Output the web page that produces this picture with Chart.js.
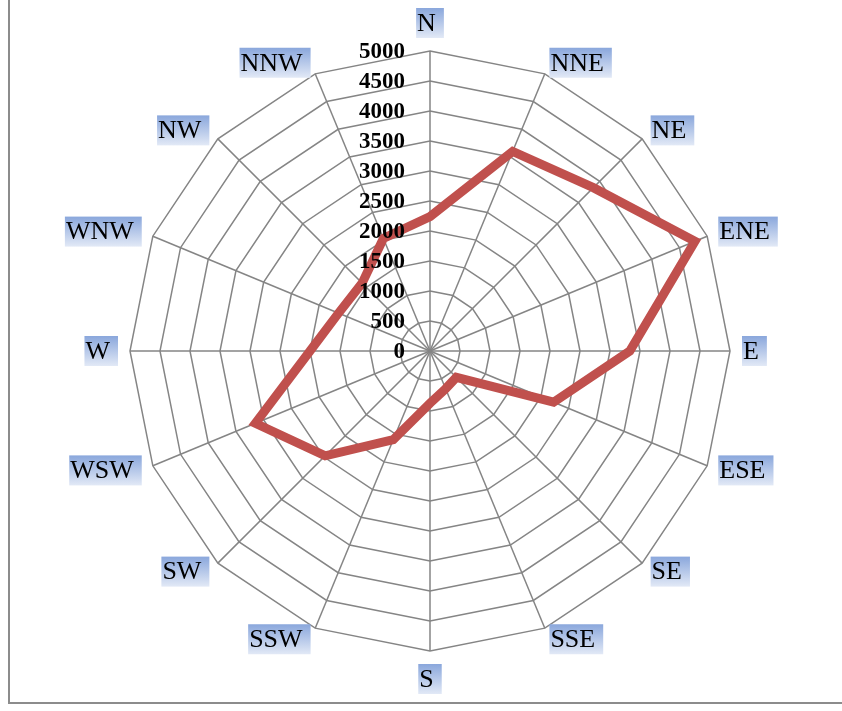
<!DOCTYPE html>
<html>
<head>
<meta charset="utf-8">
<title>Wind direction radar</title>
<script src="https://cdn.jsdelivr.net/npm/chart.js@4.4.1/dist/chart.umd.min.js"></script>
<style>
  html, body { margin: 0; padding: 0; background: #ffffff; }
  #wrap { position: relative; width: 842px; height: 711px; overflow: hidden; }
  #frame {
    position: absolute; left: 8px; top: -4px; width: 900px; height: 708px;
    border-left: 2px solid #8c8c8c; border-bottom: 2px solid #8c8c8c;
    box-sizing: border-box; pointer-events: none;
  }
  canvas { position: absolute; left: 0; top: 0; }
</style>
</head>
<body>
<div id="wrap">
  <canvas id="chart" width="842" height="711"></canvas>
  <div id="frame"></div>
</div>
<script>
// Compass directions, clockwise from north
const directions = ['N', 'NNE', 'NE', 'ENE', 'E', 'ESE', 'SE', 'SSE',
                    'S', 'SSW', 'SW', 'WSW', 'W', 'WNW', 'NW', 'NNW'];

// Value per direction
const frequency = [2240, 3600, 3850, 4780, 3330, 2230, 620, 680,
                   870, 1600, 2470, 3150, 2000, 1650, 1600, 2030];

// Radial axis ticks
const ringTicks = [0, 500, 1000, 1500, 2000, 2500, 3000, 3500, 4000, 4500, 5000];

const GRID = '#858585';
const LABEL_FONT = '26px "Liberation Serif", "Times New Roman", serif';
const TICK_FONT = 'bold 23px "Liberation Serif", "Times New Roman", serif';

// Tick values on the left of the vertical spoke, drawn over the series line
const tickLabelPlugin = {
  id: 'tickLabels',
  afterDatasetsDraw(chart) {
    const r = chart.scales.r;
    const ctx = chart.ctx;
    ctx.save();
    ctx.font = TICK_FONT;
    ctx.fillStyle = '#000000';
    ctx.textAlign = 'right';
    ctx.textBaseline = 'middle';
    r.ticks.forEach(t => {
      const d = r.getDistanceFromCenterForValue(t.value);
      ctx.fillText(String(t.value), r.xCenter - 25, r.yCenter - d + 1);
    });
    ctx.restore();
  }
};

// Direction names with a blue gradient backdrop around the outer ring
const directionLabelPlugin = {
  id: 'directionLabels',
  afterDraw(chart) {
    const r = chart.scales.r;
    const ctx = chart.ctx;
    const n = chart.data.labels.length;
    const boxH = 30;
    ctx.save();
    ctx.font = LABEL_FONT;
    ctx.textBaseline = 'middle';
    ctx.textAlign = 'left';
    chart.data.labels.forEach((label, i) => {
      const p = r.getPointPosition(i, r.drawingArea + 12);
      const deg = (i * 360) / n;
      const w = ctx.measureText(label).width + 9;
      let left, top;
      if (deg === 0) {
        left = p.x - w / 2; top = p.y - 1 - boxH;
      } else if (deg === 180) {
        left = p.x - w / 2; top = p.y + 1;
      } else if (deg < 180) {
        left = p.x; top = p.y - boxH / 2;
      } else {
        left = p.x - w; top = p.y - boxH / 2;
      }
      const g = ctx.createLinearGradient(0, top, 0, top + boxH);
      g.addColorStop(0, '#8aa7dc');
      g.addColorStop(1, '#e2e9f6');
      ctx.fillStyle = g;
      ctx.fillRect(left, top, w, boxH);
      ctx.fillStyle = '#000000';
      ctx.fillText(label, left + 1, top + boxH / 2 + 1);
    });
    ctx.restore();
  }
};

new Chart(document.getElementById('chart').getContext('2d'), {
  type: 'radar',
  data: {
    labels: directions,
    datasets: [{
      data: frequency,
      borderColor: '#c0504d',
      backgroundColor: 'rgba(0,0,0,0)',
      borderWidth: 9,
      borderJoinStyle: 'miter',
      fill: false,
      tension: 0,
      pointRadius: 0,
      pointHoverRadius: 0,
      pointHitRadius: 0
    }]
  },
  options: {
    responsive: false,
    animation: false,
    events: [],
    layout: { padding: { left: 130, right: 112, top: 51, bottom: 60 } },
    plugins: {
      legend: { display: false },
      tooltip: { enabled: false }
    },
    scales: {
      r: {
        min: 0,
        max: 5000,
        afterBuildTicks(scale) {
          scale.ticks = ringTicks.map(v => ({ value: v }));
        },
        ticks: { display: false, stepSize: 500, callback: v => String(v) },
        grid: { color: GRID, lineWidth: 1.5 },
        angleLines: { color: GRID, lineWidth: 1.5 },
        pointLabels: { display: false }
      }
    }
  },
  plugins: [tickLabelPlugin, directionLabelPlugin]
});
</script>
</body>
</html>
